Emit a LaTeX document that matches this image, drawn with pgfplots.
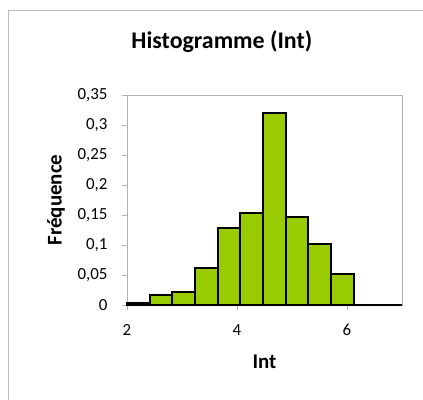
\documentclass[border=0pt]{standalone}
\usepackage{pgfplots}
\pgfplotsset{compat=1.18}
\usepackage{fontspec}
\setmainfont{Carlito}
\definecolor{barg}{HTML}{99CC00}
\begin{document}
\begin{tikzpicture}
\useasboundingbox (-127bp,-95bp) rectangle (296bp,305bp);
\begin{scope}
\clip (-127bp,-95bp) rectangle (296bp,305bp);
\fill[white] (-127bp,-95bp) rectangle (296bp,305bp);
\draw[gray!55, line width=1bp] (-118bp,-130bp) rectangle (330bp,294bp);
\end{scope}
\begin{axis}[
  at={(0,0)}, anchor=south west,
  scale only axis, width=275bp, height=210bp,
  xmin=2, xmax=7, ymin=0, ymax=0.35,
  xtick={2,4,6}, ytick={0,0.05,0.1,0.15,0.2,0.25,0.3,0.35},
  axis line style={gray!60, line width=0.8bp},
  tick style={gray!60, line width=0.8bp},
  tick align=outside, major tick length=5bp, tick pos=left,
  ticklabel style={font=\fontsize{17}{17}\selectfont},
  xticklabel style={yshift=-11bp},
  yticklabel style={xshift=-11bp},
  /pgf/number format/.cd, use comma, fixed, precision=2, assume math mode=true,
  /pgfplots/.cd,
  clip=false,
  title={Histogramme (Int)},
  title style={at={(axis description cs:0.345,1.224)}, anchor=center, font=\fontsize{24}{24}\selectfont\bfseries},
  xlabel={Int},
  xlabel style={at={(axis description cs:0.5,-0.271)}, anchor=center, font=\fontsize{21}{21}\selectfont\bfseries},
  ylabel={Fréquence},
  ylabel style={at={(axis description cs:-0.258,0.5)}, anchor=center, rotate=0, font=\fontsize{21}{21}\selectfont\bfseries},
]
\addplot[ybar interval, fill=barg, draw=black, line width=2bp] coordinates {
(2,0.003) (2.412,0.017) (2.824,0.021) (3.236,0.061) (3.648,0.129) (4.06,0.153) (4.472,0.320) (4.884,0.146) (5.296,0.102) (5.708,0.051) (6.12,0) (7,0)};
\end{axis}
\end{tikzpicture}
\end{document}
